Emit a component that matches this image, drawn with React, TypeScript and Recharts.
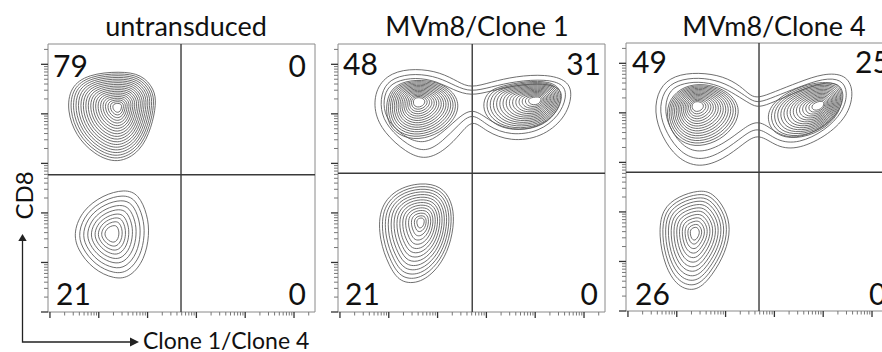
import { ScatterChart, Scatter, XAxis, YAxis, ReferenceLine, ReferenceArea } from 'recharts'

type Pt = [number, number]

// ---- text ----
const TITLES = ['untransduced', 'MVm8/Clone 1', 'MVm8/Clone 4']
// quadrant %: [upper-left, upper-right, lower-left, lower-right]
const QUAD_PCT = [
  ['79', '0', '21', '0'],
  ['48', '31', '21', '0'],
  ['49', '25', '26', '0'],
]
const X_LABEL = 'Clone 1/Clone 4'
const Y_LABEL = 'CD8'

// ---- axes (log decades) ----
const DECADES = [0, 1, 2, 3, 4, 5]
const MINOR_STEPS = [2, 3, 4, 5, 6, 7, 8, 9]
const X_DOMAIN: [number, number] = [-0.04, 5.43]
const Y_DOMAIN: [number, number] = [0, 5.41]

// quadrant gates, in decades
const GATE_X = [2.685, 2.71, 2.685]
const GATE_Y = [2.77, 2.8, 2.8]

// ---- contours: outer outline, peak and ring levels per population ----
// untransduced
const UNTR_UL: Pt[] = [[1.43, 4.86], [1.88, 4.8], [2.14, 4.5], [2.18, 4.2], [2.08, 3.72], [1.86, 3.24], [1.39, 2.98], [0.9, 3.18], [0.53, 3.56], [0.35, 4.06], [0.41, 4.54], [0.78, 4.8]]
const UNTR_UL_PEAK: Pt = [1.39, 4.14]
const UNTR_UL_LEVELS = [1, 0.95, 0.9, 0.85, 0.8, 0.75, 0.7, 0.65, 0.6, 0.55, 0.5, 0.45, 0.4, 0.35, 0.3, 0.25, 0.2, 0.15, 0.1]

const UNTR_LL: Pt[] = [[1.53, 2.48], [1.82, 2.38], [2.0, 1.96], [2.04, 1.56], [1.94, 1.06], [1.65, 0.7], [1.32, 0.66], [0.88, 0.86], [0.56, 1.26], [0.48, 1.62], [0.67, 2.06], [1.08, 2.36]]
const UNTR_LL_PEAK: Pt = [1.27, 1.58]
const UNTR_LL_LEVELS = [1, 0.88, 0.77, 0.66, 0.56, 0.46, 0.37, 0.28, 0.19]

// MVm8/Clone 1
const C1_BRIDGES: Pt[][] = [
  [[1.04, 4.84], [1.55, 4.92], [2.06, 4.84], [2.43, 4.64], [2.68, 4.52], [3.09, 4.64], [3.6, 4.76], [4.22, 4.8], [4.67, 4.68], [4.77, 4.38], [4.61, 3.9], [4.12, 3.52], [3.5, 3.44], [2.99, 3.64], [2.72, 3.9], [2.47, 3.6], [2.17, 3.28], [1.76, 3.06], [1.35, 3.22], [0.9, 3.62], [0.69, 4.04], [0.73, 4.52]],
  [[1.09, 4.74], [1.55, 4.82], [2.02, 4.74], [2.37, 4.56], [2.68, 4.44], [3.09, 4.54], [3.6, 4.66], [4.22, 4.7], [4.59, 4.6], [4.65, 4.34], [4.49, 3.96], [4.09, 3.64], [3.5, 3.56], [3.03, 3.74], [2.72, 4.04], [2.43, 3.78], [2.1, 3.44], [1.76, 3.22], [1.39, 3.36], [0.98, 3.72], [0.82, 4.08], [0.86, 4.5]],
  [[1.12, 4.66], [1.55, 4.74], [1.98, 4.66], [2.33, 4.48], [2.68, 4.36], [3.09, 4.46], [3.6, 4.58], [4.2, 4.62], [4.52, 4.52], [4.56, 4.3], [4.42, 3.98], [4.05, 3.72], [3.52, 3.66], [3.08, 3.84], [2.72, 4.14], [2.4, 3.9], [2.06, 3.58], [1.74, 3.4], [1.4, 3.48], [1.03, 3.78], [0.88, 4.1], [0.92, 4.46]],
]
const C1_UL: Pt[] = [[1.55, 4.7], [2.02, 4.64], [2.34, 4.44], [2.46, 4.14], [2.3, 3.82], [1.96, 3.56], [1.5, 3.46], [1.1, 3.62], [0.94, 3.94], [0.96, 4.34], [1.14, 4.6]]
const C1_UL_PEAK: Pt = [1.61, 4.26]
const C1_UR: Pt[] = [[3.3, 4.56], [3.81, 4.66], [4.3, 4.66], [4.54, 4.5], [4.52, 4.18], [4.28, 3.82], [3.81, 3.66], [3.3, 3.7], [2.98, 3.94], [2.92, 4.22], [3.04, 4.46]]
const C1_UR_PEAK: Pt = [4.04, 4.28]
const C1_LL: Pt[] = [[1.66, 2.62], [2.08, 2.54], [2.29, 2.24], [2.35, 1.84], [2.25, 1.32], [2.03, 0.9], [1.66, 0.58], [1.23, 0.58], [1.0, 0.94], [0.81, 1.44], [0.79, 2.08], [1.13, 2.48]]
const C1_LL_PEAK: Pt = [1.66, 1.82]

// MVm8/Clone 4
const C4_BRIDGES: Pt[][] = [
  [[0.94, 4.76], [1.45, 4.82], [1.96, 4.74], [2.31, 4.54], [2.51, 4.34], [2.68, 4.3], [2.99, 4.42], [3.5, 4.62], [4.01, 4.8], [4.46, 4.78], [4.63, 4.46], [4.53, 3.98], [4.12, 3.56], [3.5, 3.26], [3.05, 3.3], [2.68, 3.6], [2.37, 3.38], [1.96, 3.06], [1.45, 2.88], [1.0, 3.08], [0.69, 3.52], [0.53, 4.02], [0.63, 4.5]],
  [[1.0, 4.66], [1.45, 4.72], [1.9, 4.64], [2.27, 4.44], [2.51, 4.26], [2.68, 4.2], [2.99, 4.32], [3.5, 4.52], [4.01, 4.7], [4.38, 4.68], [4.51, 4.42], [4.41, 4.02], [4.04, 3.64], [3.5, 3.38], [3.05, 3.42], [2.68, 3.74], [2.37, 3.54], [1.96, 3.22], [1.49, 3.02], [1.08, 3.18], [0.79, 3.58], [0.63, 4.02], [0.73, 4.46]],
  [[1.05, 4.58], [1.45, 4.64], [1.86, 4.56], [2.22, 4.36], [2.5, 4.18], [2.68, 4.1], [2.99, 4.22], [3.5, 4.44], [4.0, 4.62], [4.32, 4.6], [4.44, 4.38], [4.34, 4.02], [4.0, 3.7], [3.5, 3.48], [3.08, 3.54], [2.7, 3.88], [2.38, 3.7], [1.98, 3.38], [1.5, 3.18], [1.14, 3.3], [0.88, 3.64], [0.74, 4.02], [0.82, 4.42]],
]
const C4_UL: Pt[] = [[1.45, 4.6], [1.88, 4.52], [2.2, 4.3], [2.3, 4.0], [2.14, 3.66], [1.8, 3.4], [1.36, 3.3], [1.0, 3.46], [0.8, 3.8], [0.8, 4.2], [1.06, 4.5]]
const C4_UL_PEAK: Pt = [1.41, 4.16]
const C4_UR: Pt[] = [[3.29, 4.44], [3.81, 4.62], [4.3, 4.62], [4.42, 4.36], [4.32, 3.96], [3.96, 3.62], [3.42, 3.46], [3.0, 3.56], [2.84, 3.86], [2.92, 4.16]]
const C4_UR_PEAK: Pt = [3.94, 4.16]
const C4_LL: Pt[] = [[1.45, 2.44], [1.73, 2.4], [2.0, 2.06], [2.11, 1.66], [2.0, 1.18], [1.73, 0.72], [1.41, 0.38], [1.01, 0.48], [0.75, 0.92], [0.63, 1.52], [0.69, 2.06], [1.04, 2.32]]
const C4_LL_PEAK: Pt = [1.37, 1.58]

const DENSE_LEVELS = [1, 0.94, 0.88, 0.82, 0.76, 0.7, 0.64, 0.58, 0.52, 0.46, 0.4, 0.34, 0.28, 0.22, 0.16]
const LOWER_LEVELS = [1, 0.93, 0.86, 0.79, 0.72, 0.65, 0.58, 0.51, 0.44, 0.37, 0.3, 0.23, 0.16, 0.1]
const C4_LOWER_LEVELS = [1, 0.92, 0.84, 0.76, 0.68, 0.6, 0.52, 0.44, 0.36, 0.28, 0.2, 0.13]

type Pop = { outline: Pt[]; peak: Pt; levels: number[] }

const PANELS: { bridges: Pt[][]; pops: Pop[] }[] = [
  {
    bridges: [],
    pops: [
      { outline: UNTR_UL, peak: UNTR_UL_PEAK, levels: UNTR_UL_LEVELS },
      { outline: UNTR_LL, peak: UNTR_LL_PEAK, levels: UNTR_LL_LEVELS },
    ],
  },
  {
    bridges: C1_BRIDGES,
    pops: [
      { outline: C1_UL, peak: C1_UL_PEAK, levels: DENSE_LEVELS },
      { outline: C1_UR, peak: C1_UR_PEAK, levels: DENSE_LEVELS },
      { outline: C1_LL, peak: C1_LL_PEAK, levels: LOWER_LEVELS },
    ],
  },
  {
    bridges: C4_BRIDGES,
    pops: [
      { outline: C4_UL, peak: C4_UL_PEAK, levels: DENSE_LEVELS },
      { outline: C4_UR, peak: C4_UR_PEAK, levels: DENSE_LEVELS },
      { outline: C4_LL, peak: C4_LL_PEAK, levels: C4_LOWER_LEVELS },
    ],
  },
]

// ---- layout ----
const FRAME_W = 267
const FRAME_H = 268
const FRAME_POS = [[48, 44], [338, 44], [626, 43]]
const AXIS_W = 10 // room for the y ticks
const AXIS_H = 10 // room for the x ticks
const PAD = 2
const FONT = 'Lato, "Open Sans", sans-serif'
const CONTOUR = '#555'

const logTicks = (dom: [number, number]) =>
  DECADES.flatMap((d) => [d, ...MINOR_STEPS.map((k) => d + Math.log10(k))]).filter(
    (v) => v >= dom[0] && v <= dom[1]
  )

const isMajor = (v: number) => Math.abs(v - Math.round(v)) < 1e-9

const shrink = (out: Pt[], peak: Pt, s: number) =>
  out.map(([x, y]) => ({ x: peak[0] + (x - peak[0]) * s, y: peak[1] + (y - peak[1]) * s }))

const noDot = () => null

function XTick(props: any) {
  const { x, y, payload } = props
  const major = isMajor(payload.value)
  return (
    <line x1={x} x2={x} y1={y} y2={y + (major ? 6 : 3.5)} stroke={major ? '#333' : '#777'} strokeWidth={major ? 1.3 : 1} />
  )
}

function YTick(props: any) {
  const { x, y, payload } = props
  const major = isMajor(payload.value)
  return (
    <line x1={x} x2={x - (major ? 7 : 4)} y1={y} y2={y} stroke={major ? '#333' : '#777'} strokeWidth={major ? 1.3 : 1} />
  )
}

function Panel({ idx }: { idx: number }) {
  const cfg = PANELS[idx]
  const [left, top] = FRAME_POS[idx]
  const rings: { x: number; y: number }[][] = [
    ...cfg.bridges.map((b) => b.map(([x, y]) => ({ x, y }))),
    ...cfg.pops.flatMap((p) => p.levels.map((s) => shrink(p.outline, p.peak, s))),
  ]
  return (
    <div style={{ position: 'absolute', left: left - PAD - AXIS_W, top: top - PAD }}>
      <ScatterChart
        width={FRAME_W + AXIS_W + PAD * 2}
        height={FRAME_H + AXIS_H + PAD * 2}
        margin={{ top: PAD, right: PAD, bottom: PAD, left: PAD }}
      >
        <XAxis
          type="number"
          dataKey="x"
          domain={X_DOMAIN}
          ticks={logTicks(X_DOMAIN)}
          interval={0}
          tick={XTick}
          tickLine={false}
          axisLine={false}
          tickSize={0}
          tickMargin={0}
          height={AXIS_H}
          allowDataOverflow
        />
        <YAxis
          type="number"
          dataKey="y"
          domain={Y_DOMAIN}
          ticks={logTicks(Y_DOMAIN)}
          interval={0}
          tick={YTick}
          tickLine={false}
          axisLine={false}
          tickSize={0}
          tickMargin={0}
          width={AXIS_W}
          allowDataOverflow
        />
        <ReferenceArea
          x1={X_DOMAIN[0]}
          x2={X_DOMAIN[1]}
          y1={Y_DOMAIN[0]}
          y2={Y_DOMAIN[1]}
          fill="none"
          stroke="#8a8a8a"
          strokeWidth={1}
        />
        {rings.map((r, i) => (
          <Scatter
            key={i}
            data={r}
            fill={CONTOUR}
            line={{ stroke: CONTOUR, strokeWidth: 0.85 }}
            lineJointType="basisClosed"
            shape={noDot}
            isAnimationActive={false}
          />
        ))}
        <ReferenceLine x={GATE_X[idx]} stroke="#3a3a3a" strokeWidth={1.4} />
        <ReferenceLine y={GATE_Y[idx]} stroke="#3a3a3a" strokeWidth={1.4} />
      </ScatterChart>
    </div>
  )
}

// quadrant label anchors (page px): [x, baseline, anchor]
const PCT_POS: [number, number, 'start' | 'end'][][] = [
  [[53, 77, 'start'], [306, 77, 'end'], [56, 305, 'start'], [306, 305, 'end']],
  [[343, 75, 'start'], [601, 75, 'end'], [345, 305, 'start'], [598, 305, 'end']],
  [[632, 73, 'start'], [855, 73, 'start'], [635, 305, 'start'], [869, 305, 'start']],
]
const TITLE_X = [186, 477, 774]

export default function App() {
  return (
    <div
      style={{
        position: 'absolute',
        left: 0,
        top: 0,
        width: 882,
        height: 352,
        overflow: 'hidden',
        background: '#fff',
      }}
    >
      {PANELS.map((_, i) => (
        <Panel key={i} idx={i} />
      ))}
      <svg
        width={882}
        height={352}
        style={{ position: 'absolute', left: 0, top: 0, pointerEvents: 'none' }}
        fontFamily={FONT}
      >
        {TITLES.map((t, i) => (
          <text key={t} x={TITLE_X[i]} y={36} textAnchor="middle" fontSize={27} fill="#111">
            {t}
          </text>
        ))}
        {QUAD_PCT.map((row, i) =>
          row.map((v, j) => {
            const [x, y, anchor] = PCT_POS[i][j]
            return (
              <text key={`${i}-${j}`} x={x} y={y} textAnchor={anchor} fontSize={30} fill="#111">
                {v}
              </text>
            )
          })
        )}
        {/* axis arrows */}
        <polyline points="131,342 22.5,342 22.5,240" fill="none" stroke="#222" strokeWidth={1.3} />
        <polygon points="22.5,234 18.3,241 26.7,241" fill="#222" />
        <polygon points="139,342 130,337.5 130,346.5" fill="#222" />
        <text x={143} y={349} fontSize={23} fill="#111">
          {X_LABEL}
        </text>
        <text transform="translate(33,195.5) rotate(-90)" textAnchor="middle" fontSize={24} fill="#111">
          {Y_LABEL}
        </text>
      </svg>
    </div>
  )
}
